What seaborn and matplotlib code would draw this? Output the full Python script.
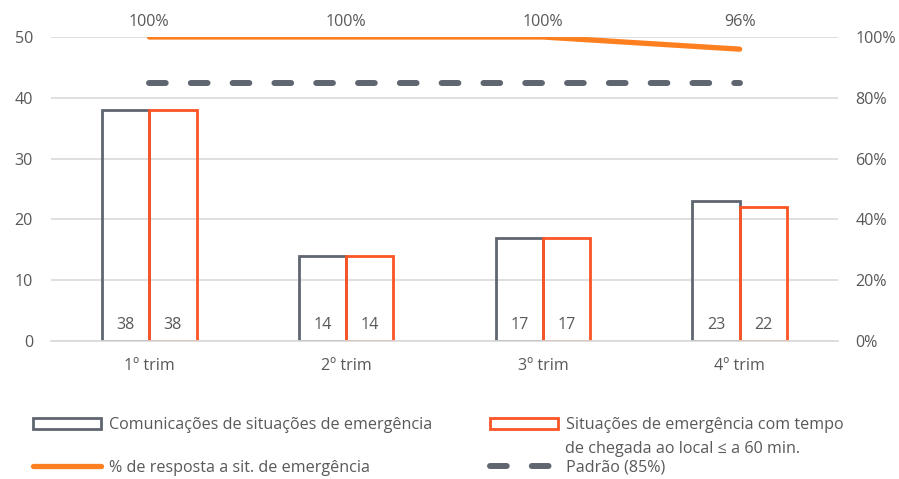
import numpy as np
import pandas as pd
import matplotlib
matplotlib.use("Agg")
import matplotlib.pyplot as plt
from matplotlib.patches import Patch
from matplotlib.lines import Line2D
from matplotlib.transforms import blended_transform_factory, offset_copy
import seaborn as sns

# Data
trimestres = ["1º trim", "2º trim", "3º trim", "4º trim"]
comunicacoes = [38, 14, 17, 23]
chegada_60min = [38, 14, 17, 22]
pct_resposta = [1.00, 1.00, 1.00, 0.96]
padrao = [0.85, 0.85, 0.85, 0.85]

serie_a = "Comunicações de situações de emergência"
serie_b = "Situações de emergência com tempo de chegada ao local ≤ a 60 min."

GRAY = "#5f6670"
RED_ORANGE = "#fc5424"
ORANGE = "#fd7f1f"
TEXT = "#595959"
GRID = "#d9d9d9"
FS = 11.6

sns.set_theme(style="white")
plt.rcParams["font.family"] = ["Open Sans", "DejaVu Sans"]
plt.rcParams["font.size"] = FS
plt.rcParams["text.color"] = TEXT

df = pd.DataFrame({
    "trim": trimestres * 2,
    "serie": [serie_a] * 4 + [serie_b] * 4,
    "valor": comunicacoes + chegada_60min,
})

fig = plt.figure(figsize=(8.99, 4.79), dpi=100)
ax = fig.add_axes([51 / 899, 1 - 341 / 479, 787 / 899, (341 - 37) / 479])

sns.barplot(data=df, x="trim", y="valor", hue="serie", order=trimestres,
            palette=[GRAY, RED_ORANGE], fill=False, width=0.48, gap=0,
            linewidth=2.0, ax=ax, legend=False, errorbar=None)

ax.set_xlim(-0.5, 3.5)
ax.set_ylim(0, 50)
ax.set_yticks(np.arange(0, 51, 10))
ax.set_xlabel("")
ax.set_ylabel("")
ax.grid(axis="y", color=GRID, linewidth=1.2)
ax.set_axisbelow(True)
for s in ["top", "right", "left"]:
    ax.spines[s].set_visible(False)
ax.spines["bottom"].set_color(GRID)
ax.spines["bottom"].set_linewidth(1.2)
ax.tick_params(axis="both", length=0, colors=TEXT, labelsize=FS)
ax.tick_params(axis="y", pad=13)
ax.tick_params(axis="x", pad=12)

# Value labels at the base of each bar
for p in ax.patches:
    h = p.get_height()
    if np.isnan(h):
        continue
    ax.annotate(f"{int(round(h))}", (p.get_x() + p.get_width() / 2, 0),
                xytext=(0, 11.5), textcoords="offset points",
                ha="center", va="center", color=TEXT, fontsize=FS)

# Secondary axis: response rate and standard
ax2 = ax.twinx()
xpos = np.arange(len(trimestres))
sns.lineplot(x=xpos, y=pct_resposta, color=ORANGE, linewidth=3.8,
             solid_capstyle="round", ax=ax2)
sns.lineplot(x=xpos, y=padrao, color=GRAY, linewidth=4.3,
             dashes=False, ax=ax2)
dash_line = ax2.lines[-1]
dash_line.set_linestyle((0, (2.8, 4.2)))
dash_line.set_dash_capstyle("round")
ax2.set_ylim(0, 1.0)
ax2.set_yticks(np.arange(0, 1.01, 0.2))
ax2.set_yticklabels([f"{int(round(v * 100))}%" for v in np.arange(0, 1.01, 0.2)])
for s in ["top", "right", "left", "bottom"]:
    ax2.spines[s].set_visible(False)
ax2.tick_params(axis="y", length=0, colors=TEXT, labelsize=FS, pad=12.5)
ax2.set_xlim(-0.5, 3.5)

# Percentage labels above the plot
trans = blended_transform_factory(ax2.transData, ax2.transAxes)
for x, v in zip(xpos, pct_resposta):
    ax2.text(x, 1.0, f"{int(round(v * 100))}%",
             transform=offset_copy(trans, fig=fig, x=0, y=11, units="points"),
             ha="center", va="center", color=TEXT, fontsize=FS)

# Legend
def add_entry(handle, label, x_px, y_px):
    fig.legend(handles=[handle], labels=[label], loc="center left",
               bbox_to_anchor=(x_px / 899, 1 - y_px / 479),
               frameon=False, borderpad=0, borderaxespad=0,
               handlelength=4.2, handletextpad=0.5, fontsize=FS,
               labelcolor=TEXT)

add_entry(Patch(facecolor="white", edgecolor=GRAY, linewidth=2.0), serie_a, 33, 425)
add_entry(Patch(facecolor="white", edgecolor=RED_ORANGE, linewidth=2.0),
          "Situações de emergência com tempo", 490, 425)
fig.text(565 / 899, 1 - 449 / 479, "de chegada ao local ≤ a 60 min.",
         ha="left", va="center", color=TEXT, fontsize=FS)
add_entry(Line2D([], [], color=ORANGE, linewidth=3.8, solid_capstyle="round"),
          "% de resposta a sit. de emergência", 33, 468)
add_entry(Line2D([], [], color=GRAY, linewidth=4.3, linestyle=(0, (2.8, 4.2)),
                 dash_capstyle="round"),
          "Padrão (85%)", 490, 468)

fig.savefig("out.png", dpi=100)
